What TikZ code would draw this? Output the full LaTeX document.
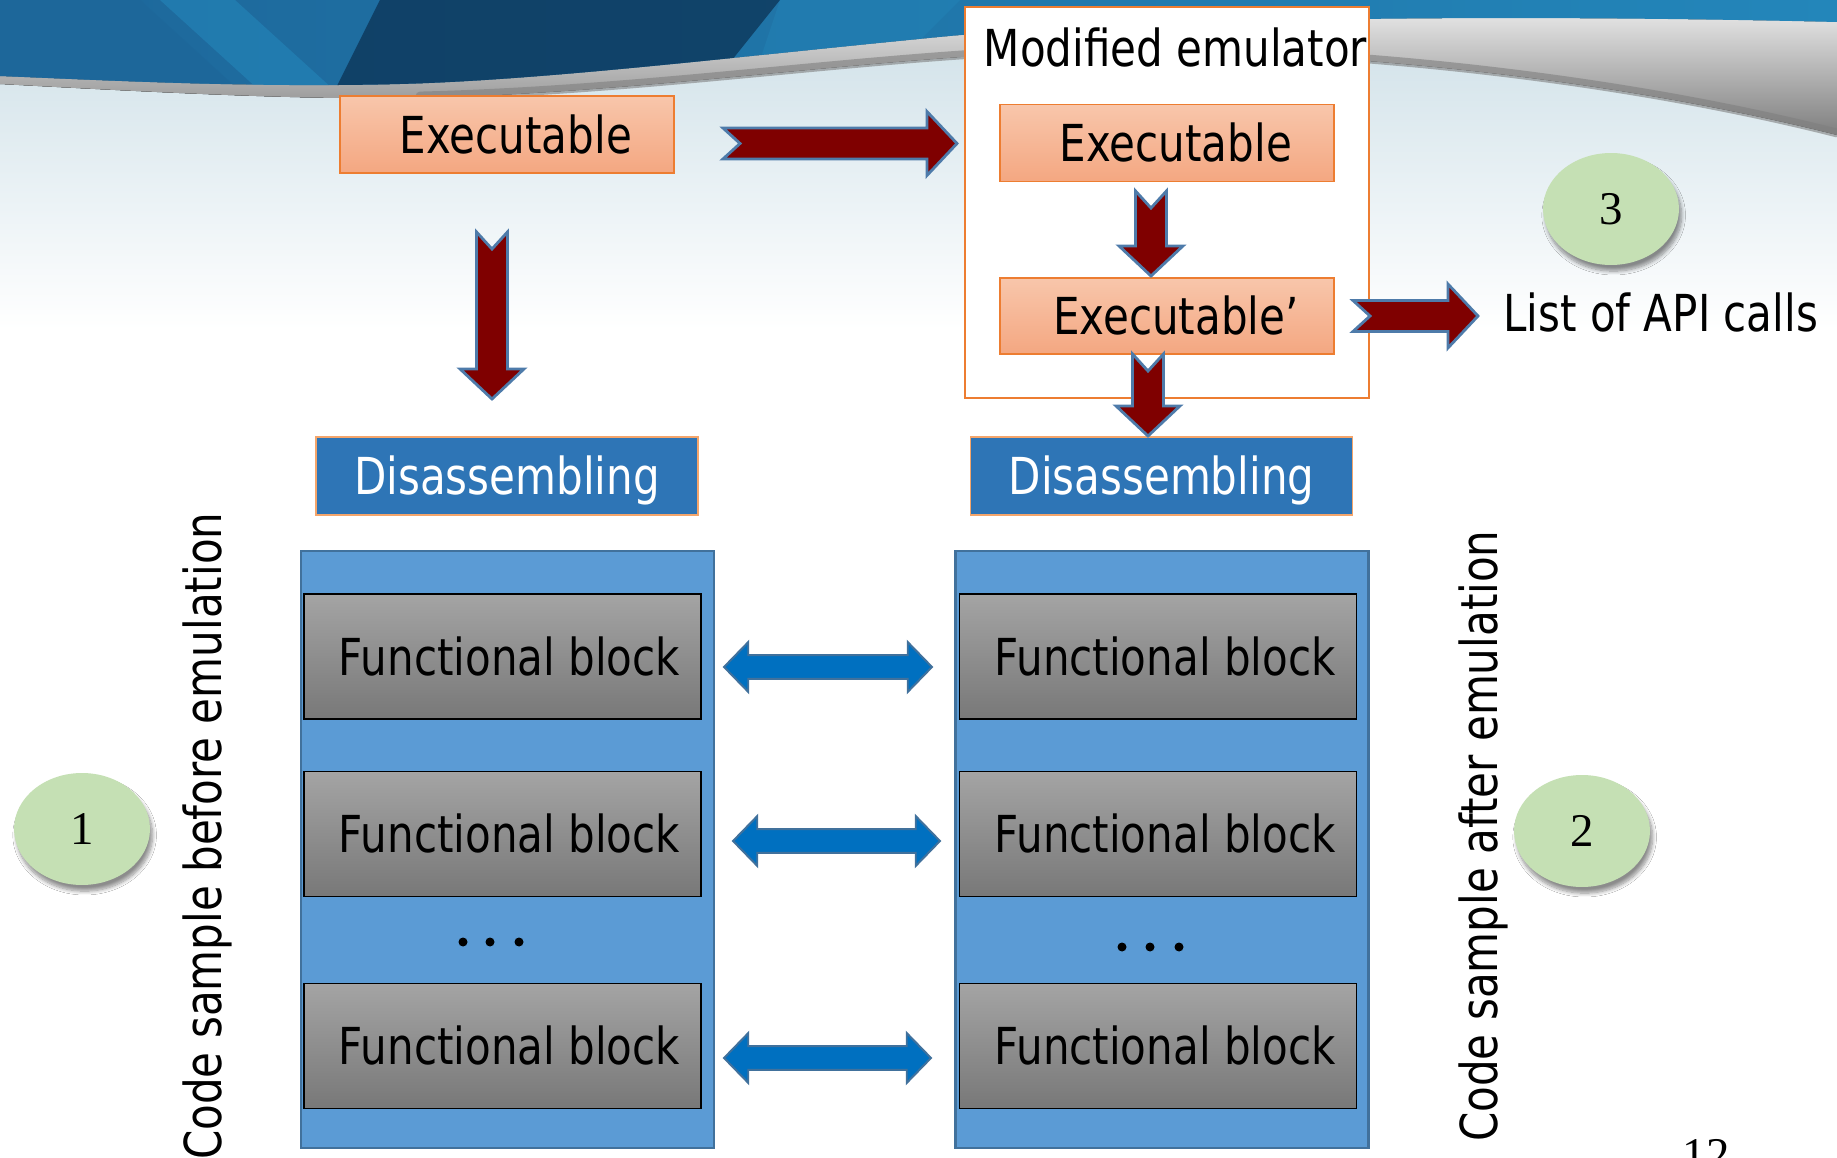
\documentclass[tikz,border=0pt]{standalone}
\usepackage{fontspec}
\setmainfont{DejaVu Sans}[FakeStretch=0.825]
\newfontfamily\numfont{Liberation Serif}
\usetikzlibrary{calc,shapes.geometric,shadows.blur}

\definecolor{navy}{HTML}{0B2F50}
\definecolor{midblue}{HTML}{1D679A}
\definecolor{skyblue}{HTML}{2386BA}
\definecolor{silver}{HTML}{E4E4E4}
\definecolor{darksilver}{HTML}{7F7F7F}
\definecolor{haze}{HTML}{D3E3EA}
\definecolor{exetop}{HTML}{F8C6AB}
\definecolor{exebot}{HTML}{F4A781}
\definecolor{exeline}{HTML}{ED7D31}
\definecolor{disfill}{HTML}{2E75B6}
\definecolor{disline}{HTML}{F4A56B}
\definecolor{panelfill}{HTML}{5B9BD5}
\definecolor{panelline}{HTML}{41719C}
\definecolor{fbtop}{HTML}{A4A4A4}
\definecolor{fbbot}{HTML}{787878}
\definecolor{maroon}{HTML}{7F0000}
\definecolor{arrowline}{HTML}{4E7BAA}
\definecolor{dblblue}{HTML}{0070C0}
\definecolor{disc}{HTML}{C5E0B4}

\tikzset{
  exebox/.style={draw=exeline, line width=1pt, top color=exetop, bottom color=exebot,
    minimum width=6.68cm, minimum height=1.54cm, inner sep=0pt,
    text height=21.1pt, text depth=0pt},
  emubox/.style={draw=exeline, line width=1.3pt, fill=white,
    minimum width=8.08cm, minimum height=7.82cm, inner sep=0pt},
  disbox/.style={draw=disline, line width=0.8pt, fill=disfill, text=white,
    minimum width=7.64cm, minimum height=1.56cm, inner sep=0pt,
    text height=21.1pt, text depth=0pt},
  panel/.style={draw=panelline, line width=1.3pt, fill=panelfill,
    minimum width=8.26cm, minimum height=11.94cm, inner sep=0pt},
  fblock/.style={draw=black, line width=0.8pt, top color=fbtop, bottom color=fbbot,
    minimum width=7.94cm, minimum height=2.5cm, inner sep=0pt,
    text height=21.1pt, text depth=0pt},
  numdisc/.style={ellipse, fill=disc, minimum width=2.72cm, minimum height=2.24cm,
    inner sep=0pt, font=\numfont\fontsize{26.7}{30}\selectfont,
    text height=18pt, text depth=0pt,
    blur shadow={shadow xshift=1.5pt, shadow yshift=-3.5pt, shadow opacity=45, shadow blur steps=8}},
  redblock/.style={fill=maroon, draw=arrowline, line width=1.6pt, line join=miter},
  blueblock/.style={fill=dblblue, draw=panelline, line width=1.1pt, line join=miter},
}

% notched block arrow from tail #1 to tip #2
\newcommand\notcharrow[2]{%
  \draw[redblock]
    ($(#1)!8.8pt!90:(#2)$) -- ($(#1)!9.7pt!(#2)$) -- ($(#1)!8.8pt!-90:(#2)$)
    -- ($(#2)!17.1pt!(#1)!8.8pt!-90:(#2)$) -- ($(#2)!17.1pt!(#1)!18.2pt!-90:(#2)$)
    -- (#2)
    -- ($(#2)!17.1pt!(#1)!18.2pt!90:(#2)$) -- ($(#2)!17.1pt!(#1)!8.8pt!90:(#2)$)
    -- cycle;}

% two-headed block arrow between tips #1 and #2
\newcommand\twinarrow[2]{%
  \draw[blueblock]
    (#1) -- ($(#1)!13.8pt!(#2)!14.2pt!90:(#2)$) -- ($(#1)!13.8pt!(#2)!6.8pt!90:(#2)$)
    -- ($(#2)!13.8pt!(#1)!6.8pt!-90:(#1)$) -- ($(#2)!13.8pt!(#1)!14.2pt!-90:(#1)$)
    -- (#2)
    -- ($(#2)!13.8pt!(#1)!14.2pt!90:(#1)$) -- ($(#2)!13.8pt!(#1)!6.8pt!90:(#1)$)
    -- ($(#1)!13.8pt!(#2)!6.8pt!-90:(#2)$) -- ($(#1)!13.8pt!(#2)!14.2pt!-90:(#2)$)
    -- cycle;}

\begin{document}
\begin{tikzpicture}[x=0.02cm, y=-0.02cm, font=\fontsize{29}{34}\selectfont]
\useasboundingbox (0,0) rectangle (1837,1158);
\fill[white] (0,0) rectangle (1837,1158);

% ---- header band ----
\fill[top color=haze, bottom color=white]
  (0,84) .. controls (150,92) and (300,100) .. (420,98)
  .. controls (650,92) and (850,60) .. (1050,52)
  .. controls (1300,45) and (1600,75) .. (1837,135)
  -- (1837,330) -- (0,330) -- cycle;
\fill[top color=silver, bottom color=darksilver]
  (0,76) .. controls (100,80) and (250,88) .. (400,84)
  .. controls (550,80) and (750,55) .. (950,36)
  .. controls (1150,18) and (1500,14) .. (1837,22)
  -- (1837,135)
  .. controls (1600,75) and (1300,45) .. (1050,52)
  .. controls (850,60) and (650,92) .. (420,98)
  .. controls (300,100) and (150,92) .. (0,84) -- cycle;
\draw[darksilver, line width=5pt, line cap=round, opacity=0.6]
  (420,96) .. controls (650,90) and (850,58) .. (1050,50)
  .. controls (1300,43) and (1600,73) .. (1837,133);
\begin{scope}
  \clip (0,0) -- (1837,0) -- (1837,22)
    .. controls (1500,14) and (1150,18) .. (950,36)
    .. controls (750,55) and (550,80) .. (400,84)
    .. controls (250,88) and (100,80) .. (0,76) -- cycle;
  \shade[left color=midblue, middle color=navy, right color=skyblue] (0,0) rectangle (1837,100);
  \fill[midblue, opacity=0.8] (0,0) -- (140,0) -- (250,100) -- (0,100) -- cycle;
  \fill[skyblue, opacity=0.6] (160,0) -- (235,0) -- (345,100) -- (270,100) -- cycle;
  \fill[navy, opacity=0.7] (380,0) -- (780,0) -- (700,100) -- (330,100) -- cycle;
  \fill[skyblue, opacity=0.4] (780,0) -- (960,0) -- (900,60) -- (760,60) -- cycle;
\end{scope}

% ---- emulator column ----
\node[emubox] (emu) at (1167,202.5) {};
\node[anchor=base] (emutitle) at (1175.5,67) {Modified emulator};
\node[exebox] (exeB) at (1167,143) {\hspace*{10pt}Executable};
\node[exebox, minimum height=1.52cm] (exeC) at (1167,316) {\hspace*{10pt}Executable’};

% ---- input executable ----
\node[exebox] (exeA) at (507,134.5) {\hspace*{10pt}Executable};

% ---- disassembly results ----
\node[disbox] (disA) at (507,476) {Disassembling};
\node[disbox] (disB) at (1161.5,476) {Disassembling};

\node[panel] (panA) at (507.5,849.5) {};
\node[panel] (panB) at (1162,849.5) {};

\node[fblock] (fA1) at (502.5,656.5) {\hspace*{8pt}Functional block};
\node[fblock] (fA2) at (502.5,834) {\hspace*{8pt}Functional block};
\node[fblock] (fA3) at (502.5,1046) {\hspace*{8pt}Functional block};
\node[fblock] (fB1) at (1158,656.5) {\hspace*{8pt}Functional block};
\node[fblock] (fB2) at (1158,834) {\hspace*{8pt}Functional block};
\node[fblock] (fB3) at (1158,1046) {\hspace*{8pt}Functional block};

\foreach \dx in {463,490,519} \fill (\dx,942) circle[radius=0.09cm];
\foreach \dx in {1122,1150,1179} \fill (\dx,947) circle[radius=0.09cm];

% ---- labels ----
\node[anchor=base west] (api) at (1497,332) {List of API calls};
\node[rotate=90, anchor=base west] (before) at (221,1166) {Code sample before emulation};
\node[rotate=90, anchor=base west] (after) at (1497,1148) {Code sample after emulation};

\node[numdisc] (n1) at (82,829) {1};
\node[numdisc] (n2) at (1582,831) {2};
\node[numdisc] (n3) at (1611,209) {3};

\node[anchor=base, font=\numfont\fontsize{26.7}{30}\selectfont] (pagenum) at (1706,1170) {12};

% ---- flow arrows ----
\coordinate (toEmuTail) at (723,143.5);   \coordinate (toEmuTip) at (957,143.5);
\coordinate (toDisATail) at (492,232);    \coordinate (toDisATip) at (492,399);
\coordinate (toExeCTail) at (1151,191);   \coordinate (toExeCTip) at (1151,276);
\coordinate (toDisBTail) at (1148,354);   \coordinate (toDisBTip) at (1148,436);
\coordinate (toApiTail) at (1353,316);    \coordinate (toApiTip) at (1478,316);

\notcharrow{toEmuTail}{toEmuTip}
\notcharrow{toDisATail}{toDisATip}
\notcharrow{toExeCTail}{toExeCTip}
\notcharrow{toDisBTail}{toDisBTip}
\notcharrow{toApiTail}{toApiTip}

% ---- block correspondences ----
\coordinate (m1l) at (724,667);  \coordinate (m1r) at (932,667);
\coordinate (m2l) at (733,841);  \coordinate (m2r) at (940,841);
\coordinate (m3l) at (724,1058); \coordinate (m3r) at (931,1058);
\twinarrow{m1l}{m1r}
\twinarrow{m2l}{m2r}
\twinarrow{m3l}{m3r}
\end{tikzpicture}
\end{document}
